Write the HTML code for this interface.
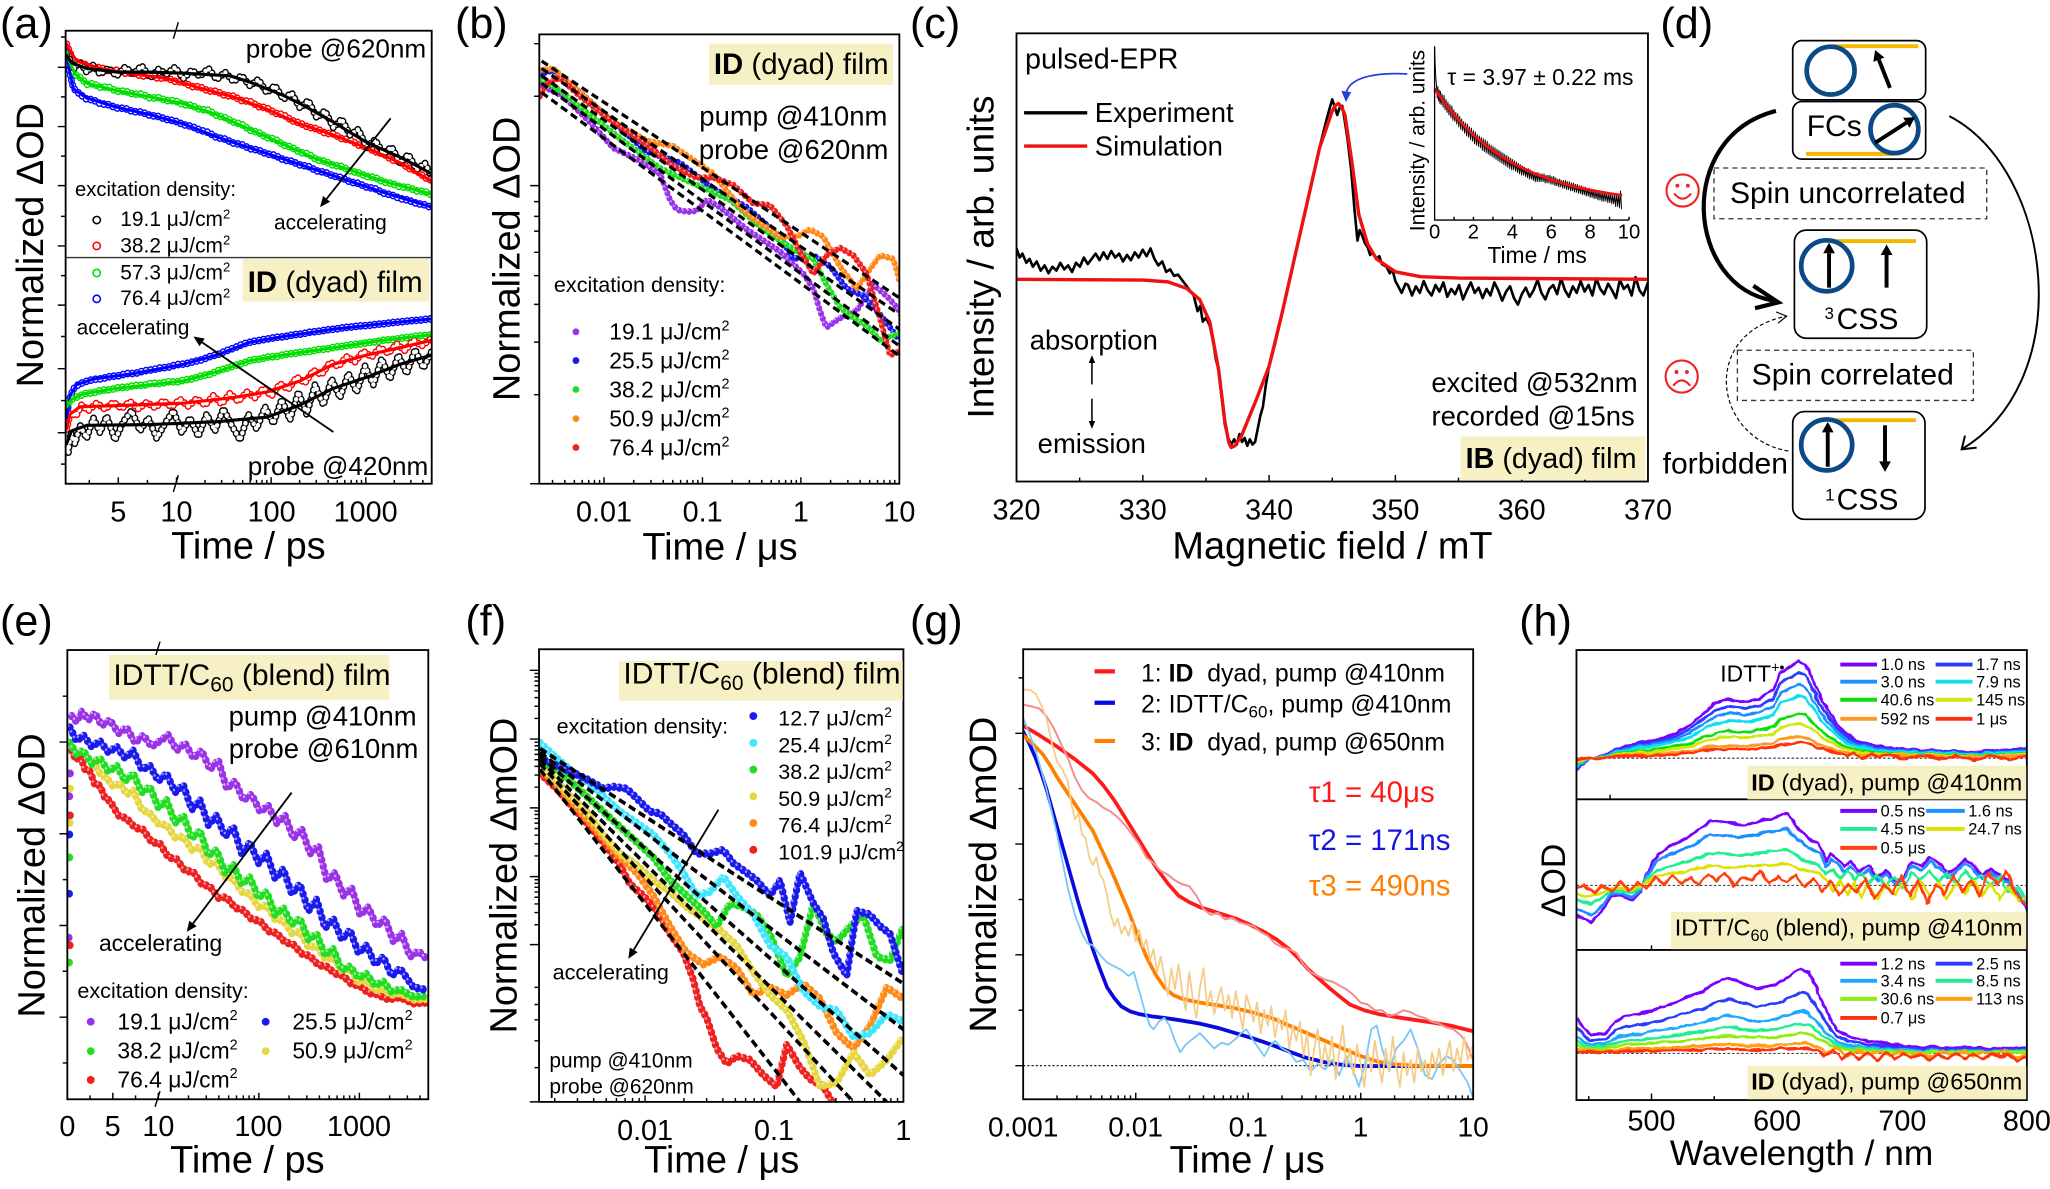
<!DOCTYPE html>
<html><head><meta charset="utf-8">
<style>
html,body{margin:0;padding:0;background:#fff;overflow:hidden;}
svg{display:block;}
text{font-family:"Liberation Sans",Arial,sans-serif;fill:#000;}
</style></head>
<body>
<svg xmlns="http://www.w3.org/2000/svg" width="2050" height="1189" viewBox="0 0 1568 909.43" preserveAspectRatio="none">
<defs>
<clipPath id="ca"><rect x="50.2" y="23.5" width="280" height="346.5"/></clipPath>
<clipPath id="cb"><rect x="412.5" y="26.3" width="275.4" height="343.7"/></clipPath>
<clipPath id="cc"><rect x="777.5" y="25.5" width="483" height="342.8"/></clipPath>
<clipPath id="ce"><rect x="51.5" y="497.2" width="276.1" height="343.6"/></clipPath>
<clipPath id="cf"><rect x="412.3" y="496.6" width="278.7" height="346.2"/></clipPath>
<clipPath id="cg"><rect x="782.6" y="496.6" width="344.2" height="344.2"/></clipPath>
<clipPath id="ch1"><rect x="1205.8" y="497.2" width="344.5" height="114.2"/></clipPath>
<clipPath id="ch2"><rect x="1205.8" y="611.4" width="344.5" height="115.2"/></clipPath>
<clipPath id="ch3"><rect x="1205.8" y="726.6" width="344.5" height="114.8"/></clipPath>
<filter id="jit" x="-3%" y="-10%" width="106%" height="120%">
<feTurbulence type="fractalNoise" baseFrequency="0.12" numOctaves="2" seed="7" result="n"/>
<feDisplacementMap in="SourceGraphic" in2="n" scale="3.5" xChannelSelector="R" yChannelSelector="G"/>
</filter>
<!-- panel a series (zoom coords) -->
<path id="aUk" d="M200,150 210,162 222,185 240,168 260,195 280,176 300,200 325,185 350,205 375,182 400,200 425,178 450,210 475,188 500,200 525,182 550,212 575,190 600,206 625,185 650,215 675,195 700,220 725,205 750,232 775,215 800,250 825,232 850,268 875,252 900,292 925,272 950,318 975,300 1000,345 1025,322 1050,365 1075,350 1100,398 1125,378 1150,415 1175,398 1200,440 1225,418 1250,458 1275,442 1295,478"/>
<path id="aUr" d="M200,120 208,138 218,158 230,168 250,172 275,184 300,182 325,192 350,190 375,198 400,197 425,206 450,203 475,212 500,210 525,220 550,222 575,234 600,235 625,246 650,247 675,258 700,260 725,272 750,274 775,288 800,292 825,306 850,310 875,326 900,333 925,344 950,348 975,360 1000,362 1025,375 1050,378 1075,392 1100,397 1125,410 1150,416 1175,432 1200,437 1225,455 1250,462 1275,480 1295,488"/>
<path id="aUg" d="M200,140 208,165 218,190 230,205 245,212 260,228 280,226 300,236 325,235 350,247 375,246 400,255 425,254 450,265 475,264 500,272 525,272 550,283 575,285 600,296 625,298 650,312 675,318 700,330 725,336 750,352 775,358 800,372 825,376 850,392 875,398 900,412 925,416 950,432 975,436 1000,447 1025,450 1050,462 1075,467 1100,477 1125,480 1150,492 1175,496 1200,505 1225,507 1250,516 1275,518 1295,527"/>
<path id="aUb" d="M200,120 204,160 210,200 220,238 240,255 260,268 280,270 300,280 325,283 350,292 375,293 400,302 425,303 450,312 475,315 500,323 525,327 550,337 575,342 600,352 625,358 650,372 675,376 700,387 725,391 750,402 775,406 800,416 825,420 850,432 875,436 900,446 925,450 950,462 975,466 1000,476 1025,480 1050,492 1075,496 1100,506 1125,510 1150,522 1175,527 1200,537 1225,541 1250,550 1275,554 1295,562"/>
<path id="aLb" d="M200,1130 205,1095 212,1068 222,1050 235,1040 255,1032 280,1026 305,1024 330,1018 355,1016 380,1010 405,1010 430,1003 455,1000 480,995 505,993 530,986 555,984 580,978 605,973 630,964 655,958 680,948 705,940 730,930 755,924 780,920 805,916 830,912 855,910 880,905 905,903 930,898 955,896 980,892 1005,890 1030,886 1055,884 1080,881 1105,880 1130,877 1155,875 1180,872 1205,870 1230,867 1255,866 1280,863 1295,862"/>
<path id="aLg" d="M200,1100 208,1088 218,1078 235,1072 255,1064 280,1062 305,1055 330,1054 355,1048 380,1047 405,1042 430,1042 455,1036 480,1037 505,1032 530,1033 555,1027 580,1024 605,1016 630,1012 655,1002 680,996 705,988 730,982 755,973 780,971 805,965 830,964 855,958 880,956 905,952 930,950 955,945 980,944 1005,938 1030,936 1055,932 1080,930 1105,926 1130,924 1155,919 1180,918 1205,914 1230,912 1255,908 1280,907 1295,905"/>
<path id="aLr" d="M200,1160 206,1135 214,1115 228,1125 245,1095 265,1110 290,1090 315,1106 340,1088 365,1104 390,1086 415,1105 440,1088 465,1102 490,1084 515,1100 540,1080 565,1098 590,1078 615,1095 640,1070 665,1092 690,1064 715,1085 740,1060 765,1075 790,1050 815,1070 840,1038 865,1052 890,1020 915,1035 940,1002 965,1012 990,980 1015,990 1040,965 1065,978 1090,950 1115,965 1140,940 1165,955 1190,930 1215,948 1240,920 1265,935 1295,915"/>
<path id="aLk" d="M200,1200 205,1225 212,1170 225,1200 240,1150 260,1185 280,1130 300,1170 320,1125 345,1190 370,1140 395,1110 420,1165 445,1130 470,1185 495,1145 520,1110 545,1170 570,1130 595,1180 620,1120 645,1165 670,1105 695,1150 720,1190 745,1120 770,1160 795,1100 820,1145 845,1080 870,1135 895,1060 920,1120 945,1040 970,1095 995,1025 1020,1075 1045,1010 1070,1060 1095,990 1120,1040 1145,970 1170,1025 1195,960 1220,1010 1245,945 1270,995 1295,950"/>
<!-- panel b -->
<path id="bP" d="M180,230 215,245 250,260 290,295 330,330 365,365 400,400 435,415 470,430 505,450 540,470 555,505 570,540 585,560 600,570 625,572 650,570 665,555 680,540 700,550 720,560 760,590 800,620 850,650 900,680 935,710 970,740 985,760 1000,780 1010,810 1020,840 1030,865 1040,885 1060,872 1080,860 1105,850 1130,840 1155,805 1180,770 1200,785 1220,800 1240,820 1258,840"/>
<path id="bB" d="M180,200 200,195 220,190 260,220 300,250 350,290 400,330 450,370 500,410 550,425 600,440 650,475 700,510 750,535 800,560 850,600 900,640 920,670 940,700 970,695 1000,690 1025,705 1050,720 1075,750 1100,780 1125,790 1150,800 1175,825 1200,850 1230,885 1258,920"/>
<path id="bG" d="M180,215 215,232 250,250 275,270 300,290 350,325 400,360 470,408 540,455 595,478 650,500 700,520 750,540 800,580 850,620 900,650 950,680 975,690 1000,700 1020,735 1040,770 1060,800 1080,830 1100,845 1120,860 1140,870 1160,880 1180,900 1200,920 1230,910 1258,900"/>
<path id="bO" d="M180,190 200,188 220,185 260,218 300,250 350,290 400,330 450,355 500,380 540,388 580,395 600,408 620,420 660,445 700,470 740,515 780,560 800,575 820,590 860,615 900,640 925,640 950,640 970,630 990,620 1010,630 1030,640 1055,680 1080,720 1105,750 1130,780 1145,760 1160,740 1180,715 1200,690 1220,695 1240,700 1250,730 1258,760"/>
<path id="bR" d="M180,260 190,242 200,225 220,218 240,210 270,235 300,260 350,295 400,330 450,360 500,390 540,420 580,450 615,465 650,480 675,480 700,480 730,490 760,500 790,525 820,550 845,552 870,555 895,582 920,610 940,645 960,680 980,710 1000,740 1020,715 1040,690 1060,680 1080,670 1100,680 1120,690 1140,715 1160,740 1180,800 1200,860 1215,910 1230,960 1245,955 1258,950"/>
<!-- panel e -->
<path id="eR" d="M215,420 228,445 240,432 255,470 270,475 285,510 300,512 315,545 330,552 355,590 380,598 405,622 430,628 455,660 480,664 505,700 530,705 555,735 580,738 605,770 630,776 655,806 680,804 705,832 730,838 755,862 780,866 805,893 830,898 855,922 880,928 905,952 930,958 955,982 980,986 1005,1004 1030,1010 1055,1032 1080,1036 1105,1055 1130,1058 1165,1072 1200,1066 1240,1082 1285,1080"/>
<path id="eY" d="M280,450 300,480 320,492 340,515 360,505 380,535 400,525 425,575 450,585 475,612 500,615 525,648 550,645 575,680 600,672 625,718 650,712 675,752 700,755 725,790 750,795 775,830 800,825 825,862 850,865 875,898 900,895 925,935 950,932 975,965 1000,962 1025,995 1050,992 1075,1025 1100,1022 1125,1048 1150,1045 1175,1060 1200,1055 1240,1072 1285,1070"/>
<path id="eG" d="M210,400 230,430 250,420 275,455 300,440 325,475 350,460 375,500 400,480 425,530 450,515 475,570 500,550 525,610 550,590 575,650 600,630 625,695 650,680 675,740 700,720 725,770 750,752 775,805 800,790 825,850 850,832 875,875 900,860 925,915 950,900 975,955 1000,940 1025,995 1050,985 1075,1015 1100,1005 1125,1035 1150,1025 1175,1052 1200,1045 1240,1065 1285,1062"/>
<path id="eB" d="M210,360 230,395 250,380 275,410 300,395 325,425 350,410 375,440 400,420 425,470 450,460 475,500 500,480 525,530 550,510 575,575 600,550 625,615 650,590 675,645 700,620 725,690 750,660 775,715 800,690 825,755 850,730 875,795 900,770 925,840 950,810 975,885 1000,860 1025,915 1050,890 1075,950 1100,930 1125,980 1150,960 1175,1010 1200,990 1240,1040 1285,1048"/>
<path id="eP" d="M215,330 230,345 245,318 265,340 285,322 305,355 330,340 355,375 380,360 405,400 430,380 455,410 480,395 505,380 530,420 555,400 580,440 605,420 630,470 655,445 680,520 705,500 730,550 755,535 780,580 805,565 830,610 855,590 880,650 905,625 930,690 955,670 980,760 1005,740 1030,800 1055,780 1080,850 1105,830 1130,880 1155,860 1180,920 1205,900 1230,960 1255,945 1285,970"/>
<!-- panel f -->
<path id="fB" d="M210,440 260,460 300,475 350,495 400,520 430,515 470,520 500,545 540,580 570,585 600,610 640,640 680,690 720,690 760,680 790,715 830,740 860,760 900,800 930,760 960,870 990,740 1030,820 1060,860 1090,950 1130,1010 1160,840 1200,850 1230,880 1260,900 1300,1010"/>
<path id="fC" d="M210,400 260,440 300,470 350,500 400,540 450,580 500,610 550,640 600,690 640,740 680,800 720,790 760,750 800,800 850,850 900,930 950,960 1000,1050 1050,1090 1100,1100 1150,1170 1200,1160 1250,1110 1300,1130"/>
<path id="fG" d="M210,450 260,470 300,500 350,540 400,580 450,620 500,660 550,700 600,760 650,800 700,840 740,880 780,820 820,830 860,850 900,900 950,1010 990,960 1030,820 1070,900 1100,920 1140,880 1180,850 1220,960 1260,970 1300,880"/>
<path id="fY" d="M210,460 260,500 300,540 350,580 400,640 450,690 500,720 550,760 600,790 650,830 700,860 750,890 800,930 850,1000 900,1060 950,1100 1000,1180 1050,1300 1100,1290 1150,1210 1200,1270 1250,1230 1300,1170"/>
<path id="fO" d="M210,470 260,510 300,550 350,600 400,650 450,700 500,740 550,800 600,880 650,950 700,980 750,960 800,990 850,1060 900,1040 950,1060 1000,1030 1050,1070 1100,1160 1150,1200 1200,1140 1250,1040 1300,1070"/>
<path id="fR" d="M210,480 260,520 300,560 350,610 400,660 450,720 480,770 520,800 560,840 600,900 640,950 670,1020 690,1090 710,1120 740,1200 770,1240 800,1220 840,1230 880,1270 920,1300 950,1190 990,1250 1020,1280 1060,1300 1100,1360"/>
</defs>

<!-- ===================== DATA ===================== -->
<!-- (a) -->
<g clip-path="url(#ca)">
<g transform="matrix(0.25497 0 0 0.2829 0 0)" fill="none" stroke-linecap="round" stroke-linejoin="round">
<g stroke-dasharray="0 14">
<use href="#aUb" stroke="#0000ff" stroke-width="21"/><use href="#aUb" stroke="#fff" stroke-width="13"/>
<use href="#aUg" stroke="#00dd00" stroke-width="21"/><use href="#aUg" stroke="#fff" stroke-width="13"/>
<use href="#aUr" stroke="#ff0000" stroke-width="21"/><use href="#aUr" stroke="#fff" stroke-width="13"/>
<use href="#aUk" stroke="#000" stroke-width="21"/><use href="#aUk" stroke="#fff" stroke-width="13"/>
<use href="#aLb" stroke="#0000ff" stroke-width="21"/><use href="#aLb" stroke="#fff" stroke-width="13"/>
<use href="#aLg" stroke="#00dd00" stroke-width="21"/><use href="#aLg" stroke="#fff" stroke-width="13"/>
<use href="#aLr" stroke="#ff0000" stroke-width="21"/><use href="#aLr" stroke="#fff" stroke-width="13"/>
<use href="#aLk" stroke="#000" stroke-width="21"/><use href="#aLk" stroke="#fff" stroke-width="13"/>
</g>
<g stroke-width="8.5">
<path stroke="#0000ff" d="M200,120 206,180 220,240 260,265 350,290 450,310 550,335 650,370 750,400 850,430 950,460 1050,490 1150,520 1295,560"/>
<path stroke="#00dd00" d="M200,140 208,165 225,200 260,225 350,245 450,262 550,280 650,310 750,350 850,390 950,430 1050,460 1150,490 1295,525"/>
<path stroke="#ff0000" d="M200,120 210,140 230,165 300,185 400,200 500,212 600,238 700,262 800,295 900,335 1000,365 1100,400 1200,440 1295,490"/>
<path stroke="#000" d="M200,150 215,170 260,185 350,195 450,195 550,198 690,205 750,222 800,240 850,258 900,280 950,305 1000,330 1050,358 1100,385 1150,405 1200,425 1250,448 1295,470"/>
<path stroke="#0000ff" d="M200,1130 210,1070 230,1040 280,1025 400,1010 550,985 650,960 750,925 850,910 1000,890 1150,875 1295,862"/>
<path stroke="#00dd00" d="M200,1100 215,1080 250,1065 350,1050 450,1040 550,1030 650,1005 750,975 850,960 1000,940 1150,920 1295,905"/>
<path stroke="#ff0000" d="M200,1160 210,1120 240,1100 400,1095 550,1090 700,1075 800,1060 900,1030 1000,985 1100,960 1200,940 1295,920"/>
<path stroke="#000" d="M200,1200 215,1165 260,1150 450,1148 650,1140 800,1128 900,1095 1000,1050 1100,1020 1200,985 1295,960"/>
</g>
</g>
</g>

<!-- (b) -->
<g clip-path="url(#cb)">
<g transform="matrix(0.25497 0 0 0.2829 367.1 0)" fill="none" stroke-linecap="round" stroke-linejoin="round">
<g stroke-dasharray="0 15">
<use href="#bP" stroke="#9a32e8" stroke-width="18"/><use href="#bP" transform="translate(-4,-4)" stroke="#fff" stroke-opacity="0.55" stroke-width="6"/>
<use href="#bB" stroke="#1a1aee" stroke-width="18"/><use href="#bB" transform="translate(-4,-4)" stroke="#fff" stroke-opacity="0.55" stroke-width="6"/>
<use href="#bG" stroke="#22dd22" stroke-width="18"/><use href="#bG" transform="translate(-4,-4)" stroke="#fff" stroke-opacity="0.55" stroke-width="6"/>
<use href="#bO" stroke="#ff8a1a" stroke-width="18"/><use href="#bO" transform="translate(-4,-4)" stroke="#fff" stroke-opacity="0.55" stroke-width="6"/>
<use href="#bR" stroke="#ee2020" stroke-width="18"/><use href="#bR" transform="translate(-4,-4)" stroke="#fff" stroke-opacity="0.55" stroke-width="6"/>
</g>
<g stroke="#000" stroke-width="9" stroke-dasharray="22 13" stroke-linecap="butt">
<path d="M185,165 1258,805"/><path d="M185,185 1258,850"/><path d="M185,205 1258,890"/><path d="M185,225 1258,935"/><path d="M185,250 1258,962"/>
</g>
</g>
</g>

<!-- (c) -->
<g clip-path="url(#cc)" fill="none" stroke-linejoin="round">
<path stroke="#000" stroke-width="2" d="M777.5,190 780,197 782,194 785,201 787.5,198 790,204 793,200 796,207 799,203 802,209 805,204 808,207 811,201 814,206 817,203 820,208 823,201 826,204 829,197 832,202 835,198 838,194 841,199 844,193 847,198 850,192 853,197 856,194 859,200 862,195 865,199 868,193 871,197 874,191 877,196 880,190 883,198 886,203 889,200 892,208 895,206 898,211 901,210 904,214 907,218 910,222 913,226 916,238 918,234 920,246 922.5,243 925.3,249 928,262 930,275 932.1,283 934.5,305 936.9,325 939,334 941.7,340 944,336 946,340 948,332 950,338 952,335 954,341 956,336 958,340 960,338 962,328 964,318 966,311 968,296 970.7,280 973,272 975.5,262 978,251 980.4,240 983,229 985,220 987.5,210 990,198 992.5,187 995,176 997.5,166 999.7,156 1002,145 1004.5,134 1007,124 1009.3,113 1012,102 1014.5,92 1017,83 1019,76 1021,82 1022.8,88 1024.8,82 1026.7,81 1028.5,92 1030.5,105 1033.5,130 1036,160 1038.3,184 1040,176 1042.2,181 1044,186 1046.1,189 1048,195 1050,193 1052.8,198 1055,196 1057,202 1060.5,204 1063,209 1065,206 1067.3,215 1070,220 1072.1,224 1075,217 1077,218 1080,226 1083,219 1086,224 1089,215 1092,222 1095,226 1098,218 1101,223 1104,216 1107,227 1110,221 1113,225 1116,218 1119,229 1122,222 1125,216 1128,224 1131,220 1134,228 1137,221 1140,226 1143,216 1146,222 1149,230 1152,223 1155,219 1158,228 1161,233 1164,225 1167,220 1170,227 1173,222 1176,214 1179,224 1182,229 1185,221 1188,218 1191,225 1194,213 1197,222 1200,227 1203,219 1206,224 1209,215 1212,223 1215,218 1218,226 1221,213 1224,221 1227,225 1230,217 1233,222 1236,228 1239,214 1242,221 1245,218 1248,226 1251,212 1254,222 1257,226 1260.5,216"/>
<path stroke="#ee1111" stroke-width="2.6" d="M777.5,213.6 874.1,214.2 893.4,215.6 907.9,220.7 917.6,229.1 925.3,246.1 932.1,282.9 936.9,322.5 939.8,338.1 941.7,342.3 944.6,340.9 949.4,333.8 961,305.5 970.7,280.1 980.4,240.5 990,198 999.7,155.6 1009.3,113.2 1019,84.9 1021.4,80.6 1023.8,79.2 1026.2,82 1028.7,87.7 1034.5,127.3 1039.3,164.1 1046.1,186.7 1052.8,198 1067.3,207.9 1086.6,211.6 1115.6,212.7 1260.5,213.6"/>
<path stroke="#000" stroke-width="0.7" d="M1097.3,37 1097.8,50 1098.3,60 1098.8,66 1099.3,75 1099.8,66 1100.3,77 1100.8,69 1101.3,79 1101.8,70 1102.3,80 1103,72 1103.8,82 1104.5,73 1105.3,84 1106,76 1106.8,86 1107.5,78 1108.3,88 1109,80 1109.8,90 1110.5,81 1111.3,92 1112,84 1112.8,93 1113.5,86 1114.3,95 1115,87 1115.8,97 1116.5,89 1117.3,99 1118,91 1118.8,100 1119.5,93 1120.3,102 1121,94 1121.8,104 1122.5,95 1123.3,105 1124,97 1124.8,107 1125.5,98 1126.3,108 1127,100 1127.8,110 1128.5,101 1129.3,111 1130,103 1130.8,112 1131.5,104 1132.3,113 1133,105 1133.8,115 1134.5,106 1135.3,116 1136,107 1136.8,117 1137.5,108 1138.3,118 1139,110 1139.8,119 1140.5,111 1141.3,120 1142,112 1142.8,121 1143.5,113 1144.3,122 1145,114 1145.8,123 1146.5,115 1147.3,124 1148,116 1148.8,125 1149.5,117 1150.3,126 1151,118 1151.8,127 1152.5,119 1153.3,128 1154,120 1154.8,129 1155.5,121 1156.3,130 1157,122 1157.8,130 1158.5,123 1159.3,131 1160,124 1160.8,132 1161.5,125 1162.3,133 1163,126 1163.8,134 1164.5,127 1165.3,134 1166,128 1166.8,135 1167.5,129 1168.3,136 1169,129 1169.8,137 1170.5,130 1171.3,137 1172,131 1172.8,138 1173.5,132 1174.3,139 1175,132 1175.8,139 1176.5,132 1177.3,139 1178,133 1178.8,139 1179.5,133 1180.3,139 1181,133 1181.8,140 1182.5,134 1183.3,140 1184,134 1184.8,140 1185.5,134 1186.3,141 1187,135 1187.8,141 1188.5,135 1189.3,142 1190,136 1190.8,142 1191.5,137 1192.3,143 1193,137 1193.8,143 1194.5,138 1195.3,144 1196,138 1196.8,144 1197.5,138 1198.3,145 1199,139 1199.8,145 1200.5,139 1201.3,146 1202,140 1202.8,146 1203.5,140 1204.3,147 1205,141 1205.8,147 1206.5,141 1207.3,148 1208,142 1208.8,148 1209.5,142 1210.3,149 1211,143 1211.8,149 1212.5,143 1213.3,150 1214,144 1214.8,150 1215.5,144 1216.3,151 1217,145 1217.8,151 1218.5,145 1219.3,152 1220,146 1220.8,152 1221.5,146 1222.3,153 1223,146 1223.8,153 1224.5,147 1225.3,154 1226,147 1226.8,154 1227.5,147 1228.3,154 1229,148 1229.8,155 1230.5,148 1231.3,155 1232,148 1232.8,156 1233.5,149 1234.3,156 1235,149 1235.8,158 1236.5,148 1237.3,158 1238,149 1238.8,159 1239.5,146 1240.3,160"/>
<path stroke="#ee1111" stroke-width="2.2" d="M1097.3,67.9 1104.7,78.5 1112.2,87.8 1119.6,96 1127,103.3 1134.5,109.7 1141.9,115.3 1149.3,120.3 1156.8,124.7 1171.7,131.9 1186.5,137.6 1201.4,142 1216.3,145.4 1231.1,148 1240.8,149.4"/>
</g>

<!-- (e) -->
<g clip-path="url(#ce)">
<g transform="matrix(0.25497 0 0 0.2922 0 451.3)" fill="none" stroke-linecap="round" stroke-linejoin="round" stroke-dasharray="0 17">
<use href="#eR" stroke="#ee2020" stroke-width="22"/><use href="#eR" transform="translate(-5,-5)" stroke="#fff" stroke-opacity="0.55" stroke-width="7"/>
<use href="#eY" stroke="#e6d640" stroke-width="22"/><use href="#eY" transform="translate(-5,-5)" stroke="#fff" stroke-opacity="0.55" stroke-width="7"/>
<use href="#eG" stroke="#22dd22" stroke-width="22"/><use href="#eG" transform="translate(-5,-5)" stroke="#fff" stroke-opacity="0.55" stroke-width="7"/>
<use href="#eB" stroke="#1a1aee" stroke-width="22"/><use href="#eB" transform="translate(-5,-5)" stroke="#fff" stroke-opacity="0.55" stroke-width="7"/>
<use href="#eP" stroke="#9a32e8" stroke-width="22"/><use href="#eP" transform="translate(-5,-5)" stroke="#fff" stroke-opacity="0.55" stroke-width="7"/>
</g>
<circle cx="53" cy="609.1" r="3" fill="#9a32e8"/><circle cx="53.5" cy="591.6" r="3" fill="#9a32e8"/><circle cx="52.5" cy="717.2" r="3" fill="#9a32e8"/>
<circle cx="53" cy="638.3" r="3" fill="#1a1aee"/><circle cx="52.8" cy="683.6" r="3" fill="#1a1aee"/>
<circle cx="53" cy="655.8" r="3" fill="#22dd22"/><circle cx="52.8" cy="736.2" r="3" fill="#22dd22"/>
<circle cx="53.5" cy="623.7" r="3" fill="#ee2020"/><circle cx="53.3" cy="723" r="3" fill="#ee2020"/>
<circle cx="53.3" cy="629.5" r="3" fill="#e6d640"/><circle cx="53.5" cy="603.2" r="3" fill="#e6d640"/>
</g>

<!-- (f) -->
<g clip-path="url(#cf)">
<g transform="matrix(0.25497 0 0 0.2922 359.5 451.3)" fill="none" stroke-linecap="round" stroke-linejoin="round">
<g stroke-dasharray="0 17">
<use href="#fR" stroke="#ee2020" stroke-width="22"/><use href="#fR" transform="translate(-5,-5)" stroke="#fff" stroke-opacity="0.55" stroke-width="7"/>
<use href="#fO" stroke="#ff8a1a" stroke-width="22"/><use href="#fO" transform="translate(-5,-5)" stroke="#fff" stroke-opacity="0.55" stroke-width="7"/>
<use href="#fY" stroke="#e6d640" stroke-width="22"/><use href="#fY" transform="translate(-5,-5)" stroke="#fff" stroke-opacity="0.55" stroke-width="7"/>
<use href="#fG" stroke="#22dd22" stroke-width="22"/><use href="#fG" transform="translate(-5,-5)" stroke="#fff" stroke-opacity="0.55" stroke-width="7"/>
<use href="#fC" stroke="#3ee6ff" stroke-width="22"/><use href="#fC" transform="translate(-5,-5)" stroke="#fff" stroke-opacity="0.55" stroke-width="7"/>
<use href="#fB" stroke="#1a1aee" stroke-width="22"/><use href="#fB" transform="translate(-5,-5)" stroke="#fff" stroke-opacity="0.55" stroke-width="7"/>
</g>
<g stroke="#000" stroke-width="10" stroke-dasharray="22 12" stroke-linecap="butt">
<path d="M210,415 1300,1030"/><path d="M210,425 1300,1150"/><path d="M210,435 1300,1270"/><path d="M210,445 1250,1340"/><path d="M210,455 1150,1340"/><path d="M210,470 990,1340"/>
</g>
</g>
</g>

<!-- (g) -->
<g clip-path="url(#cg)">
<line x1="782.6" y1="815.1" x2="1126.8" y2="815.1" stroke="#000" stroke-width="0.8" stroke-dasharray="1.6 1.6"/>
<g transform="matrix(0.27315 0 0 0.2922 726.6 451.3)" fill="none" stroke-linejoin="round" stroke-linecap="round">
<path stroke="#ff1a1a" stroke-width="10" d="M205,355 250,380 300,410 350,443 400,480 430,512 460,550 490,595 520,640 550,686 580,730 610,768 640,800 670,817 700,830 750,845 800,860 840,876 880,895 915,915 950,940 975,963 1000,990 1030,1015 1060,1040 1090,1063 1120,1085 1160,1100 1200,1110 1250,1118 1300,1125 1350,1132 1400,1140 1465,1155"/>
<path stroke="#0a0adf" stroke-width="10" d="M205,370 222,402 240,440 255,478 270,520 285,570 300,620 315,670 330,720 345,770 360,820 380,880 400,940 420,992 440,1040 460,1068 480,1090 505,1103 530,1110 565,1116 600,1120 650,1127 700,1135 750,1146 800,1160 850,1174 900,1190 950,1208 1000,1225 1050,1236 1100,1243 1150,1246 1200,1246 1465,1246"/>
<path stroke="#ff8000" stroke-width="10" d="M205,380 232,403 260,430 280,458 300,490 325,525 350,560 375,595 400,630 425,680 450,730 475,785 500,840 525,902 550,960 575,1005 600,1040 625,1060 650,1070 700,1080 750,1087 800,1095 850,1106 900,1120 950,1140 1000,1160 1050,1180 1100,1200 1150,1220 1200,1235 1250,1242 1300,1245 1465,1246"/>
<path stroke="#f29090" stroke-width="5.5" d="M205,300 230,305 250,310 270,330 290,360 310,400 330,440 350,490 370,525 390,545 410,555 430,570 450,580 470,595 490,615 510,640 530,665 550,700 570,715 590,735 610,745 630,760 650,770 670,775 690,800 710,835 730,850 750,845 770,862 790,858 810,870 830,875 850,880 870,895 890,905 910,925 930,935 950,940 970,950 990,980 1010,1000 1030,1010 1050,1020 1070,1025 1090,1035 1110,1045 1130,1060 1150,1080 1170,1085 1190,1100 1210,1100 1230,1115 1250,1110 1270,1100 1290,1105 1310,1115 1330,1120 1350,1130 1370,1135 1390,1145 1410,1150 1430,1165 1445,1185 1465,1230"/>
<path stroke="#78c8f5" stroke-width="5" d="M205,335 220,370 240,420 255,470 270,520 285,580 300,640 315,710 330,780 350,850 370,900 385,925 400,930 420,955 440,975 460,985 480,995 500,1010 515,1000 530,1050 545,1100 560,1140 570,1150 585,1130 600,1120 615,1140 630,1180 645,1210 660,1190 680,1175 700,1160 720,1180 740,1200 760,1185 780,1190 800,1175 815,1160 830,1150 850,1180 865,1200 880,1220 895,1195 910,1180 930,1200 950,1210 970,1235 990,1230 1010,1260 1030,1240 1050,1255 1070,1230 1090,1270 1110,1220 1130,1260 1145,1300 1160,1250 1180,1150 1195,1140 1210,1200 1230,1260 1250,1200 1270,1180 1290,1150 1310,1200 1330,1270 1350,1280 1370,1240 1390,1220 1410,1230 1430,1260 1450,1290 1465,1330"/>
<path stroke="#f5cc88" stroke-width="5" d="M205,260 225,262 240,272 255,300 270,335 285,400 300,450 315,470 330,500 340,560 350,600 360,585 370,640 380,650 390,700 400,720 410,700 420,745 430,760 440,800 450,850 460,880 470,860 480,900 490,880 500,905 510,870 520,920 530,890 540,935 550,915 560,970 570,940 580,1000 590,960 600,1010 610,1060 620,990 630,1045 640,980 650,1050 660,1100 670,1000 680,1070 690,1120 700,1040 710,990 720,1090 730,1050 740,1110 750,1070 760,1040 770,1100 780,1060 790,1120 800,1050 810,1100 820,1150 830,1060 840,1090 850,1130 860,1080 870,1160 880,1100 890,1140 900,1090 910,1170 920,1120 930,1150 940,1100 950,1200 960,1140 970,1180 980,1130 990,1220 1000,1160 1010,1270 1020,1200 1030,1150 1040,1250 1050,1190 1060,1240 1070,1170 1080,1280 1090,1210 1100,1140 1110,1250 1120,1200 1130,1270 1140,1190 1150,1240 1160,1300 1170,1210 1180,1260 1190,1180 1200,1240 1210,1290 1220,1200 1230,1260 1240,1170 1250,1250 1260,1300 1270,1210 1280,1270 1290,1230 1300,1290 1310,1200 1320,1260 1330,1230 1340,1280 1350,1210 1360,1250 1370,1200 1380,1270 1390,1220 1400,1180 1410,1260 1420,1200 1430,1240 1440,1170 1450,1230 1465,1190"/>
</g>
</g>

<!-- (h) -->
<g stroke="#333" stroke-width="0.8" stroke-dasharray="2 1.5">
<line x1="1205.8" y1="579.9" x2="1550.3" y2="579.9"/>
<line x1="1205.8" y1="677.2" x2="1550.3" y2="677.2"/>
<line x1="1205.8" y1="805.7" x2="1550.3" y2="805.7"/>
</g>
<g filter="url(#jit)">
<g clip-path="url(#ch1)">
<g transform="matrix(0.26831 0 0 0.2922 1147.3 451.3)" fill="none" stroke-width="7.5" stroke-linejoin="round">
<path stroke="#7a00ff" d="M218,470 240,450 260,440 300,430 350,410 400,400 450,390 500,375 540,355 570,330 610,300 650,285 700,292 740,282 780,262 800,215 830,200 850,185 870,195 890,230 910,275 935,315 960,350 990,380 1030,400 1080,410 1150,415 1250,420 1350,425 1420,420 1502,415"/>
<path stroke="#2a3cff" d="M218,466 240,449 260,440 300,431 350,414 400,405 450,396 500,383 540,365 570,343 610,317 650,304 700,310 740,301 780,283 800,242 830,229 850,216 870,224 890,255 910,295 935,330 960,361 990,387 1030,405 1080,414 1150,418 1250,422 1350,427 1420,422 1502,418"/>
<path stroke="#1e8fff" d="M218,463 240,448 260,440 300,432 350,417 400,410 450,402 500,391 540,375 570,356 610,334 650,322 700,328 740,320 780,305 800,269 830,258 850,246 870,254 890,280 910,315 935,345 960,372 990,394 1030,410 1080,417 1150,421 1250,425 1350,429 1420,425 1502,421"/>
<path stroke="#10e0f0" d="M218,459 240,446 260,440 300,434 350,421 400,414 450,408 500,398 540,386 570,370 610,350 650,341 700,345 740,339 780,326 800,296 830,286 850,277 870,283 890,306 910,334 935,360 960,382 990,402 1030,414 1080,421 1150,424 1250,427 1350,430 1420,427 1502,424"/>
<path stroke="#10dd10" d="M218,454 240,445 260,440 300,435 350,426 400,422 450,417 500,410 540,401 570,389 610,376 650,369 700,372 740,367 780,358 800,337 830,330 850,323 870,327 890,343 910,364 935,383 960,399 990,412 1030,422 1080,426 1150,429 1250,431 1350,433 1420,431 1502,429"/>
<path stroke="#d0e810" d="M218,451 240,444 260,440 300,436 350,429 400,426 450,422 500,417 540,409 570,400 610,390 650,384 700,387 740,383 780,376 800,359 830,354 850,348 870,352 890,364 910,381 935,395 960,408 990,418 1030,426 1080,429 1150,431 1250,433 1350,435 1420,433 1502,431"/>
<path stroke="#ff9a20" d="M218,447 240,442 260,440 300,438 350,433 400,431 450,429 500,426 540,421 570,416 610,409 650,406 700,407 740,405 780,401 800,390 830,387 850,384 870,386 890,394 910,404 935,412 960,420 990,427 1030,431 1080,433 1150,434 1250,436 1350,437 1420,436 1502,434"/>
<path stroke="#ff3010" d="M218,445 240,442 260,440 300,438 350,435 400,434 450,432 500,430 540,426 570,422 610,418 650,415 700,416 740,415 780,411 800,404 830,402 850,399 870,401 890,406 910,414 935,420 960,426 990,436 1010,425 1030,440 1060,428 1080,438 1110,430 1150,442 1200,432 1250,444 1300,434 1350,446 1400,433 1450,445 1502,436"/>
</g>
</g>
<g clip-path="url(#ch2)">
<g transform="matrix(0.26831 0 0 0.2922 1147.3 451.3)" fill="none" stroke-width="7.5" stroke-linejoin="round">
<path stroke="#7a00ff" d="M218,850 240,860 260,870 290,840 320,800 350,800 380,810 400,790 420,740 450,690 500,665 550,640 600,605 650,610 700,615 750,600 790,595 820,585 850,625 880,650 910,665 930,710 945,690 960,700 980,725 1000,710 1025,735 1050,725 1075,750 1100,735 1125,760 1150,750 1175,715 1200,720 1225,700 1250,715 1275,740 1300,730 1325,705 1350,720 1375,745 1400,730 1425,750 1450,760 1480,800 1502,840"/>
<path stroke="#1e8fff" d="M218,835 240,843 260,851 290,827 320,795 350,795 380,803 400,787 420,747 450,707 500,687 550,667 600,639 650,643 700,647 750,635 790,631 820,623 850,655 880,675 910,687 930,723 945,705 960,715 980,740 1000,723 1025,748 1050,735 1075,760 1100,743 1125,770 1150,755 1175,725 1200,731 1225,710 1250,727 1275,750 1300,739 1325,715 1350,731 1375,755 1400,739 1425,760 1450,763 1480,795 1502,827"/>
<path stroke="#20ee90" d="M218,812 240,817 260,822 290,807 320,787 350,787 380,792 400,782 420,757 450,732 500,719 550,707 600,689 650,692 700,694 750,687 790,684 820,679 850,699 880,712 910,719 930,742 950,730 970,755 990,735 1010,760 1030,740 1050,770 1075,745 1100,775 1125,750 1150,780 1175,742 1200,757 1225,735 1250,765 1275,740 1300,770 1325,735 1350,757 1375,745 1400,772 1425,750 1450,790 1480,780 1502,810"/>
<path stroke="#e0e000" d="M218,796 240,799 260,802 290,793 320,781 350,781 380,784 400,778 420,763 450,748 500,741 550,733 600,723 650,724 700,726 750,721 790,720 820,717 850,729 880,736 910,741 930,754 950,790 970,760 990,800 1010,765 1030,805 1050,770 1075,810 1100,770 1125,800 1150,766 1175,812 1200,760 1225,800 1250,765 1275,805 1300,770 1325,795 1350,760 1375,800 1400,770 1425,810 1450,775 1480,815 1502,800"/>
<path stroke="#ff4010" d="M218,781 243,770 268,795 293,772 318,790 343,762 368,785 393,768 418,780 443,752 468,770 493,748 518,768 543,752 568,772 593,744 618,760 643,740 668,775 693,752 718,760 743,735 768,770 793,750 818,765 843,745 868,778 893,755 918,790 943,760 968,800 993,770 1018,790 1043,755 1068,810 1093,770 1118,795 1143,745 1168,800 1193,760 1218,820 1243,770 1268,795 1293,745 1318,790 1343,760 1368,800 1393,740 1418,770 1443,735 1468,790 1502,830"/>
</g>
</g>
<g clip-path="url(#ch3)">
<g transform="matrix(0.26831 0 0 0.2922 1147.3 451.3)" fill="none" stroke-width="7.5" stroke-linejoin="round">
<path stroke="#7a00ff" d="M218,1120 240,1150 260,1165 300,1160 330,1130 360,1115 400,1110 450,1095 500,1080 550,1060 580,1050 620,1025 650,1015 690,1030 730,1045 780,1035 810,1020 840,1000 860,990 880,1000 900,1040 920,1080 940,1120 960,1150 990,1170 1050,1180 1150,1195 1300,1198 1502,1200"/>
<path stroke="#2a3cff" d="M218,1146 240,1168 260,1178 300,1175 330,1153 360,1142 400,1139 450,1128 500,1117 550,1103 580,1096 620,1078 650,1070 690,1081 730,1092 780,1085 810,1074 840,1060 860,1052 880,1060 900,1088 920,1117 940,1146 960,1168 990,1182 1050,1189 1150,1200 1300,1202 1502,1204"/>
<path stroke="#20a8ff" d="M218,1167 240,1182 260,1189 300,1187 330,1172 360,1164 400,1162 450,1154 500,1147 550,1137 580,1132 620,1119 650,1114 690,1122 730,1129 780,1124 810,1117 840,1107 860,1102 880,1107 900,1127 920,1147 940,1167 960,1182 990,1192 1050,1197 1150,1204 1300,1206 1502,1207"/>
<path stroke="#20ee90" d="M218,1180 240,1191 260,1196 300,1194 330,1184 360,1179 400,1177 450,1172 500,1166 550,1159 580,1156 620,1147 650,1144 690,1149 730,1154 780,1151 810,1145 840,1138 860,1135 880,1138 900,1152 920,1166 940,1180 960,1191 990,1198 1050,1201 1150,1207 1300,1208 1502,1208"/>
<path stroke="#90ee10" d="M218,1191 240,1198 260,1202 300,1200 330,1193 360,1190 400,1188 450,1185 500,1181 550,1176 580,1174 620,1168 650,1166 690,1169 730,1173 780,1170 810,1167 840,1162 860,1160 880,1162 900,1172 920,1181 940,1191 960,1198 990,1203 1050,1205 1150,1209 1300,1209 1502,1210"/>
<path stroke="#ffa010" d="M218,1202 240,1205 260,1207 300,1207 330,1203 360,1201 400,1201 450,1199 500,1197 550,1195 580,1193 620,1190 650,1189 690,1191 730,1193 780,1192 810,1190 840,1187 860,1186 880,1187 900,1192 930,1212 960,1198 990,1220 1020,1205 1050,1218 1080,1204 1110,1222 1140,1206 1170,1220 1200,1208 1230,1224 1260,1205 1290,1218 1320,1206 1350,1222 1380,1206 1410,1218 1440,1205 1470,1225 1502,1215"/>
<path stroke="#ff3010" d="M218,1207 240,1209 260,1210 300,1210 330,1208 360,1207 400,1207 450,1206 500,1205 550,1204 580,1203 620,1202 650,1201 690,1202 730,1203 780,1202 810,1201 840,1200 860,1200 880,1200 900,1203 925,1220 950,1205 975,1228 1000,1210 1025,1225 1050,1212 1075,1230 1100,1210 1125,1228 1150,1212 1175,1226 1200,1214 1225,1232 1250,1215 1275,1228 1300,1212 1325,1226 1350,1214 1375,1230 1400,1212 1425,1224 1450,1215 1475,1232 1502,1222"/>
</g>
</g>
</g>

<!-- ===================== AXES / FRAMES ===================== -->
<g fill="none" stroke="#000" stroke-width="1.4">
<rect x="50.2" y="23.5" width="280" height="346.5"/>
<rect x="412.5" y="26.3" width="275.4" height="343.7"/>
<rect x="777.5" y="25.5" width="483" height="342.8"/>
<rect x="51.5" y="497.2" width="276.1" height="343.6"/>
<rect x="412.3" y="496.6" width="278.7" height="346.2"/>
<rect x="782.6" y="496.6" width="344.2" height="344.2"/>
<rect x="1205.8" y="497.2" width="344.5" height="344.2"/>
<line x1="1205.8" y1="611.4" x2="1550.3" y2="611.4"/>
<line x1="1205.8" y1="726.6" x2="1550.3" y2="726.6"/>
</g>
<line x1="50.2" y1="197" x2="330.2" y2="197" stroke="#333" stroke-width="1.1"/>
<g stroke="#000" stroke-width="1.1" fill="none">
<path d="M132.6,29.7L136.4,17M132.6,376.3L136.4,363.5M118.6,503L122.4,490.7M118.6,846.5L122.4,834.5"/>
<!-- (a) ticks -->
<path d="M44.2,51.5H50.2M44.2,96.8H50.2M44.2,142H50.2M44.2,188.1H50.2M44.2,233.4H50.2M44.2,282H50.2M44.2,331H50.2M46.7,28.3H50.2M46.7,74.1H50.2M46.7,119.4H50.2M46.7,165.5H50.2M46.7,210.8H50.2M46.7,257.4H50.2M46.7,306.4H50.2M46.7,355H50.2"/>
<path d="M90.5,370v-5M135,370v-5M207.4,370v-5M279.8,370v-5M68.3,370v-3M112.8,370v-3M156.8,370v-3M169.5,370v-3M178.6,370v-3M185.6,370v-3M191.3,370v-3M196.2,370v-3M200.4,370v-3M204.1,370v-3M229.2,370v-3M241.9,370v-3M251,370v-3M258,370v-3M263.7,370v-3M268.6,370v-3M272.8,370v-3M276.5,370v-3M301.6,370v-3M314.3,370v-3M323.4,370v-3"/>
<!-- (b) ticks -->
<path d="M462,370v-5M537.3,370v-5M612.6,370v-5M422.6,370v-3M432,370v-3M439.3,370v-3M445.3,370v-3M450.3,370v-3M454.7,370v-3M458.6,370v-3M484.7,370v-3M497.9,370v-3M507.3,370v-3M514.6,370v-3M520.6,370v-3M525.6,370v-3M530,370v-3M533.8,370v-3M560,370v-3M573.2,370v-3M582.6,370v-3M589.9,370v-3M595.9,370v-3M600.9,370v-3M605.3,370v-3M609.1,370v-3M635.3,370v-3M648.5,370v-3M657.9,370v-3M665.2,370v-3M671.2,370v-3M676.2,370v-3M680.6,370v-3M684.4,370v-3"/>
<path d="M405.5,142H412.5M405.5,370H412.5M408.5,33.4H412.5M408.5,73.6H412.5M408.5,154.2H412.5M408.5,165.5H412.5M408.5,176.8H412.5M408.5,193H412.5M408.5,210.8H412.5M408.5,232.8H412.5M408.5,261.7H412.5M408.5,301.9H412.5"/>
<!-- (c) ticks -->
<path d="M874.1,368.3v-5M970.7,368.3v-5M1067.3,368.3v-5M1163.9,368.3v-5M825.8,368.3v-3M922.4,368.3v-3M1019,368.3v-3M1115.6,368.3v-3M1212.2,368.3v-3"/>
<path d="M1097.3,35.4V168.3H1246" stroke-width="1"/>
<path d="M1112.2,168.3v-2.5M1127,168.3v-2.5M1141.9,168.3v-2.5M1156.8,168.3v-2.5M1171.7,168.3v-2.5M1186.5,168.3v-2.5M1201.4,168.3v-2.5M1216.3,168.3v-2.5M1231.1,168.3v-2.5M1246,168.3v-2.5"/>
<!-- (e) ticks -->
<path d="M86.3,840.8v-5M121.1,840.8v-5M198,840.8v-5M274.9,840.8v-5M68.9,840.8v-3M103.7,840.8v-3M144.2,840.8v-3M157.8,840.8v-3M167.4,840.8v-3M174.9,840.8v-3M180.9,840.8v-3M186.1,840.8v-3M190.5,840.8v-3M194.5,840.8v-3M221.1,840.8v-3M234.7,840.8v-3M244.3,840.8v-3M251.8,840.8v-3M257.8,840.8v-3M263,840.8v-3M267.4,840.8v-3M271.4,840.8v-3M298,840.8v-3M311.6,840.8v-3M321.2,840.8v-3"/>
<path d="M45.5,567.6H51.5M45.5,637.7H51.5M45.5,707.9H51.5M45.5,778H51.5M48,532.5H51.5M48,602.7H51.5M48,672.8H51.5M48,742.9H51.5M48,813H51.5"/>
<!-- (f) ticks -->
<path d="M493.4,842.8v-5M592.2,842.8v-5M424.3,842.8v-3M441.7,842.8v-3M454.1,842.8v-3M463.7,842.8v-3M471.5,842.8v-3M478.1,842.8v-3M483.8,842.8v-3M488.9,842.8v-3M523.1,842.8v-3M540.5,842.8v-3M552.9,842.8v-3M562.5,842.8v-3M570.3,842.8v-3M576.9,842.8v-3M582.6,842.8v-3M587.7,842.8v-3M621.9,842.8v-3M639.3,842.8v-3M651.7,842.8v-3M661.3,842.8v-3M669.1,842.8v-3M675.7,842.8v-3M681.4,842.8v-3M686.5,842.8v-3"/>
<path d="M405.3,512.7H412.3M405.3,565.3H412.3M405.3,617.9H412.3M405.3,670.5H412.3M405.3,722.5H412.3M405.3,842.8H412.3M408.8,515.1H412.3M408.8,517.8H412.3M408.8,520.9H412.3M408.8,524.4H412.3M408.8,528.5H412.3M408.8,533.6H412.3M408.8,540.2H412.3M408.8,549.5H412.3M408.8,567.7H412.3M408.8,570.4H412.3M408.8,573.5H412.3M408.8,577H412.3M408.8,581.1H412.3M408.8,586.2H412.3M408.8,592.8H412.3M408.8,602.1H412.3M408.8,620.3H412.3M408.8,623H412.3M408.8,626.1H412.3M408.8,629.6H412.3M408.8,633.7H412.3M408.8,638.8H412.3M408.8,645.4H412.3M408.8,654.7H412.3M408.8,672.9H412.3M408.8,675.6H412.3M408.8,678.7H412.3M408.8,682.2H412.3M408.8,686.3H412.3M408.8,691.4H412.3M408.8,698H412.3M408.8,707.3H412.3M408.8,755.2H412.3M408.8,768.3H412.3M408.8,780H412.3M408.8,796.1H412.3M408.8,816.6H412.3"/>
<!-- (g) ticks -->
<path d="M868.7,840.8v-5M954.7,840.8v-5M1040.8,840.8v-5M808.5,840.8v-3M823.7,840.8v-3M834.4,840.8v-3M842.7,840.8v-3M849.6,840.8v-3M855.3,840.8v-3M860.3,840.8v-3M864.7,840.8v-3M894.6,840.8v-3M909.8,840.8v-3M920.5,840.8v-3M928.8,840.8v-3M935.7,840.8v-3M941.4,840.8v-3M946.4,840.8v-3M950.8,840.8v-3M980.6,840.8v-3M995.8,840.8v-3M1006.5,840.8v-3M1014.8,840.8v-3M1021.7,840.8v-3M1027.4,840.8v-3M1032.4,840.8v-3M1036.8,840.8v-3M1066.7,840.8v-3M1081.9,840.8v-3M1092.6,840.8v-3M1100.9,840.8v-3M1107.8,840.8v-3M1113.5,840.8v-3M1118.5,840.8v-3M1122.9,840.8v-3"/>
<path d="M776.6,560.9H782.6M776.6,645.6H782.6M776.6,730.3H782.6M776.6,815.1H782.6M779.1,518.5H782.6M779.1,603.2H782.6M779.1,688H782.6M779.1,772.7H782.6"/>
<!-- (h) ticks -->
<path d="M1263.2,841.4v-5M1359.3,841.4v-5M1455.4,841.4v-5M1215.2,841.4v-3M1311.2,841.4v-3M1407.3,841.4v-3M1503.3,841.4v-3M1263.2,726.6v-3.5M1359.3,726.6v-3.5M1455.4,726.6v-3.5M1231.5,611.4v-3.5M1359.3,611.4v-3.5M1487,611.4v-3.5"/>
</g>

<!-- arrows -->
<g stroke="#000" stroke-width="1.4">
<line x1="298.8" y1="90.5" x2="249.8" y2="152.1"/>
<line x1="255" y1="330.4" x2="154.6" y2="261.9"/>
<line x1="223.1" y1="606.2" x2="147.6" y2="706.4"/>
<line x1="549.5" y1="619.3" x2="484.7" y2="726.5"/>
<line x1="835.2" y1="294" x2="835.2" y2="277.6" stroke-width="1.2"/>
<line x1="835.2" y1="305" x2="835.2" y2="322" stroke-width="1.2"/>
</g>
<g fill="#000">
<polygon points="244.8,158.4 247.1,149.9 252.5,154.3"/>
<polygon points="148,257.4 156.6,259 152.6,264.8"/>
<polygon points="142.8,712.8 144.8,704.3 150.4,708.5"/>
<polygon points="480.6,733.3 481.7,724.7 487.7,728.3"/>
<polygon points="835.2,271.6 832.7,277.6 837.7,277.6"/>
<polygon points="835.2,328 832.7,322 837.7,322"/>
</g>
<path d="M1076.4,56.6 C1050,55 1033,60 1030,70" fill="none" stroke="#1f3fe0" stroke-width="1.3"/>
<polygon points="1029.5,78 1026,69.5 1033.5,70.5" fill="#1f3fe0"/>

<!-- panel labels -->
<g font-size="33">
<text x="0" y="29">(a)</text>
<text x="348" y="29">(b)</text>
<text x="696" y="29">(c)</text>
<text x="1270" y="29">(d)</text>
<text x="0" y="486">(e)</text>
<text x="356" y="486">(f)</text>
<text x="696" y="486">(g)</text>
<text x="1162" y="486">(h)</text>
</g>

<!-- ===== panel (a) text ===== -->
<text x="326" y="44" font-size="20" text-anchor="end">probe @620nm</text>
<text x="57.4" y="150" font-size="15.5">excitation density:</text>
<g fill="none" stroke-width="1.2">
<circle cx="74" cy="168.3" r="2.8" stroke="#000"/>
<circle cx="74" cy="188.1" r="2.8" stroke="#ff0000"/>
<circle cx="74" cy="208.8" r="2.8" stroke="#00dd00"/>
<circle cx="74" cy="228.6" r="2.8" stroke="#0000ff"/>
</g>
<g font-size="16">
<text x="92" y="173">19.1 μJ/cm<tspan font-size="10" dy="-6">2</tspan></text>
<text x="92" y="193">38.2 μJ/cm<tspan font-size="10" dy="-6">2</tspan></text>
<text x="92" y="213.6">57.3 μJ/cm<tspan font-size="10" dy="-6">2</tspan></text>
<text x="92" y="233.4">76.4 μJ/cm<tspan font-size="10" dy="-6">2</tspan></text>
<text x="209.6" y="175.4">accelerating</text>
<text x="58.6" y="256">accelerating</text>
</g>
<rect x="185.6" y="198" width="142.6" height="32.6" fill="#f6f0c4"/>
<text x="189.5" y="223.5" font-size="22.5"><tspan font-weight="bold">ID</tspan> (dyad) film</text>
<text x="327.6" y="363.5" font-size="20" text-anchor="end">probe @420nm</text>
<g font-size="22" text-anchor="middle">
<text x="90.5" y="399">5</text><text x="135" y="399">10</text><text x="207.8" y="399">100</text><text x="279.7" y="399">1000</text>
</g>
<text x="190" y="427" font-size="29" text-anchor="middle">Time / ps</text>
<text transform="translate(33,187.5) rotate(-90)" font-size="29" text-anchor="middle">Normalized ΔOD</text>

<!-- ===== panel (b) text ===== -->
<rect x="542.3" y="33.4" width="140.7" height="31.6" fill="#f6f0c4"/>
<text x="546" y="56.6" font-size="22.5"><tspan font-weight="bold">ID</tspan> (dyad) film</text>
<text x="678.7" y="96" font-size="21" text-anchor="end">pump @410nm</text>
<text x="679.5" y="121.6" font-size="21" text-anchor="end">probe @620nm</text>
<text x="423.7" y="223.5" font-size="16.5">excitation density:</text>
<circle cx="440.5" cy="253.8" r="2.6" fill="#9a32e8"/>
<circle cx="440.5" cy="275.8" r="2.6" fill="#1a1aee"/>
<circle cx="440.5" cy="297.9" r="2.6" fill="#22dd22"/>
<circle cx="440.5" cy="320.2" r="2.6" fill="#ff8a1a"/>
<circle cx="440.5" cy="342.3" r="2.6" fill="#ee2020"/>
<g font-size="17.5">
<text x="466" y="259.7">19.1 μJ/cm<tspan font-size="11" dy="-7">2</tspan></text>
<text x="466" y="282">25.5 μJ/cm<tspan font-size="11" dy="-7">2</tspan></text>
<text x="466" y="304.1">38.2 μJ/cm<tspan font-size="11" dy="-7">2</tspan></text>
<text x="466" y="326.2">50.9 μJ/cm<tspan font-size="11" dy="-7">2</tspan></text>
<text x="466" y="348.5">76.4 μJ/cm<tspan font-size="11" dy="-7">2</tspan></text>
</g>
<g font-size="22" text-anchor="middle">
<text x="462" y="399">0.01</text><text x="537.4" y="399">0.1</text><text x="612.6" y="399">1</text><text x="687.9" y="399">10</text>
</g>
<text x="550.7" y="428" font-size="29" text-anchor="middle">Time / μs</text>
<text transform="translate(397.5,198) rotate(-90)" font-size="29" text-anchor="middle">Normalized ΔOD</text>

<!-- ===== panel (c) text ===== -->
<text x="784" y="52.3" font-size="22">pulsed-EPR</text>
<line x1="783.3" y1="86.3" x2="831.6" y2="86.3" stroke="#000" stroke-width="2.6"/>
<line x1="783.3" y1="111.7" x2="831.6" y2="111.7" stroke="#ee1111" stroke-width="2.6"/>
<text x="837.4" y="93.4" font-size="21">Experiment</text>
<text x="837.4" y="118.8" font-size="21">Simulation</text>
<text x="787.6" y="267.3" font-size="21">absorption</text>
<text x="793.7" y="346.5" font-size="21">emission</text>
<text x="1252.6" y="299.9" font-size="21" text-anchor="end">excited @532nm</text>
<text x="1250.4" y="325.3" font-size="21" text-anchor="end">recorded @15ns</text>
<rect x="1117.2" y="333.8" width="141.5" height="33.1" fill="#f6f0c4"/>
<text x="1121" y="358" font-size="22"><tspan font-weight="bold">IB</tspan> (dyad) film</text>
<text x="1107" y="65" font-size="17.5">τ = 3.97 ± 0.22 ms</text>
<g font-size="15.5" text-anchor="middle">
<text x="1097.3" y="182.5">0</text><text x="1127" y="182.5">2</text><text x="1156.8" y="182.5">4</text><text x="1186.5" y="182.5">6</text><text x="1216.3" y="182.5">8</text><text x="1246" y="182.5">10</text>
</g>
<text x="1175.7" y="201" font-size="17.5" text-anchor="middle">Time / ms</text>
<text transform="translate(1089.5,107.5) rotate(-90)" font-size="16" text-anchor="middle">Intensity / arb. units</text>
<g font-size="22" text-anchor="middle">
<text x="777.5" y="397.5">320</text><text x="874.1" y="397.5">330</text><text x="970.7" y="397.5">340</text><text x="1067.3" y="397.5">350</text><text x="1163.9" y="397.5">360</text><text x="1260.5" y="397.5">370</text>
</g>
<text x="1019.2" y="427" font-size="29" text-anchor="middle">Magnetic field / mT</text>
<text transform="translate(760,196.6) rotate(-90)" font-size="28.5" text-anchor="middle">Intensity / arb. units</text>

<!-- ===== panel (d) ===== -->
<g fill="none" stroke="#000" stroke-width="1.3">
<rect x="1371.2" y="31.1" width="101.7" height="45.3" rx="7"/>
<rect x="1371.2" y="77.7" width="101.7" height="44" rx="7"/>
<rect x="1372.5" y="176" width="101.2" height="82.7" rx="9"/>
<rect x="1371.2" y="314.8" width="101.2" height="82.4" rx="9"/>
</g>
<g stroke="#f5b800" stroke-width="3">
<line x1="1401" y1="35.3" x2="1467.3" y2="35.3"/>
<line x1="1381.4" y1="117.7" x2="1448.2" y2="117.7"/>
<line x1="1401" y1="184.4" x2="1465.5" y2="184.4"/>
<line x1="1401" y1="321.4" x2="1465.5" y2="321.4"/>
</g>
<g fill="none" stroke="#0b4a86" stroke-width="3.6">
<circle cx="1400.2" cy="54" r="18.3"/>
<circle cx="1449" cy="98.8" r="18.3"/>
<circle cx="1397.2" cy="203.3" r="19.5"/>
<circle cx="1397.2" cy="340.3" r="19.5"/>
</g>
<g stroke="#000" stroke-width="3">
<line x1="1445.6" y1="67.2" x2="1437.1" y2="45.7"/>
<line x1="1434.2" y1="109.3" x2="1458.1" y2="93.9"/>
<line x1="1399" y1="220" x2="1399" y2="193.7"/>
<line x1="1443" y1="220" x2="1443" y2="195"/>
<line x1="1398" y1="357" x2="1398" y2="330.7"/>
<line x1="1441.8" y1="325.3" x2="1441.8" y2="352.9"/>
</g>
<g fill="#000">
<polygon points="1434.2,38.2 1441.3,44 1432.9,47.3"/>
<polygon points="1464.8,89.6 1460.5,97.7 1455.7,90.1"/>
<polygon points="1399,185.7 1394.5,193.7 1403.5,193.7"/>
<polygon points="1443,187 1438.5,195 1447.5,195"/>
<polygon points="1398,322.7 1393.5,330.7 1402.5,330.7"/>
<polygon points="1441.8,360.9 1437.3,352.9 1446.3,352.9"/>
</g>
<g fill="none" stroke="#ee2222" stroke-width="1.6">
<circle cx="1287" cy="145.7" r="12.3"/>
<path d="M1280.5,148 Q1287,156 1293.5,148"/>
<circle cx="1286.3" cy="288" r="12.3"/>
<path d="M1279.8,295 Q1286.3,287 1292.8,295"/>
</g>
<g fill="#ee2222">
<circle cx="1283" cy="142" r="1.5"/><circle cx="1291" cy="142" r="1.5"/>
<circle cx="1282.3" cy="284.5" r="1.5"/><circle cx="1290.3" cy="284.5" r="1.5"/>
</g>
<g fill="none" stroke="#333" stroke-width="1" stroke-dasharray="4 3">
<rect x="1311" y="128.5" width="208.6" height="38.8"/>
<rect x="1328.9" y="267.9" width="180.5" height="38.4"/>
</g>
<g fill="none" stroke="#000">
<path d="M1358.4,84.8 C1280,105 1290,220 1357,230" stroke-width="3.2"/>
<polyline points="1341.1,218.6 1360.2,231.3 1342.4,235.7" stroke-width="3.2"/>
<path d="M1491,88.8 C1570,130 1590,290 1500.4,343.7" stroke-width="1.5"/>
<polyline points="1503,333.2 1500.4,343.7 1511.9,342.4" stroke-width="1.5"/>
<path d="M1367.9,345 C1310,335 1300,255 1366.6,241.8" stroke-width="0.9" stroke-dasharray="3 2"/>
<polyline points="1358.5,238.6 1366.6,241.8 1360,247.2" stroke-width="0.9"/>
</g>
<g font-size="23">
<text x="1381.9" y="104">FCs</text>
<text x="1323.2" y="155.4">Spin uncorrelated</text>
<text x="1339.8" y="294.2">Spin correlated</text>
<text x="1271.7" y="362.2">forbidden</text>
<text x="1404.8" y="251.5">CSS</text>
<text x="1404.8" y="389.8">CSS</text>
</g>
<text x="1395.5" y="244" font-size="13">3</text>
<text x="1396" y="383" font-size="13">1</text>

<!-- ===== panel (e) text ===== -->
<rect x="83.4" y="501" width="214.4" height="34.5" fill="#f6f0c4"/>
<text x="86.7" y="523.8" font-size="23">IDTT/C<tspan font-size="16" dy="5">60</tspan><tspan dy="-5"> (blend) film</tspan></text>
<text x="318.7" y="555" font-size="21" text-anchor="end">pump @410nm</text>
<text x="320" y="579.9" font-size="21" text-anchor="end">probe @610nm</text>
<text x="75.7" y="727.4" font-size="17.5">accelerating</text>
<text x="59.2" y="763.4" font-size="16.5">excitation density:</text>
<circle cx="69.4" cy="781.5" r="3" fill="#9a32e8"/>
<circle cx="203.2" cy="781.5" r="3" fill="#1a1aee"/>
<circle cx="69.4" cy="804" r="3" fill="#22dd22"/>
<circle cx="203.2" cy="804" r="3" fill="#e6d640"/>
<circle cx="69.4" cy="826" r="3" fill="#ee2020"/>
<g font-size="17.5">
<text x="89.8" y="787.3">19.1 μJ/cm<tspan font-size="11" dy="-7">2</tspan></text>
<text x="223.6" y="787.3">25.5 μJ/cm<tspan font-size="11" dy="-7">2</tspan></text>
<text x="89.8" y="809.8">38.2 μJ/cm<tspan font-size="11" dy="-7">2</tspan></text>
<text x="223.6" y="809.8">50.9 μJ/cm<tspan font-size="11" dy="-7">2</tspan></text>
<text x="89.8" y="831.7">76.4 μJ/cm<tspan font-size="11" dy="-7">2</tspan></text>
</g>
<g font-size="22" text-anchor="middle">
<text x="51.5" y="869">0</text><text x="86.2" y="869">5</text><text x="121.1" y="869">10</text><text x="197.6" y="869">100</text><text x="274.6" y="869">1000</text>
</g>
<text x="189.2" y="897" font-size="29" text-anchor="middle">Time / ps</text>
<text transform="translate(34,669.6) rotate(-90)" font-size="29" text-anchor="middle">Normalized ΔOD</text>

<!-- ===== panel (f) text ===== -->
<rect x="473.5" y="505.4" width="217" height="30.6" fill="#f6f0c4"/>
<text x="476.8" y="522.9" font-size="23">IDTT/C<tspan font-size="16" dy="5">60</tspan><tspan dy="-5"> (blend) film</tspan></text>
<text x="425.8" y="560.9" font-size="16.5">excitation density:</text>
<circle cx="576.2" cy="547.7" r="3" fill="#1a1aee"/>
<circle cx="576.2" cy="568.2" r="3" fill="#3ee6ff"/>
<circle cx="576.2" cy="588.6" r="3" fill="#22dd22"/>
<circle cx="576.2" cy="609.1" r="3" fill="#e6d640"/>
<circle cx="576.2" cy="629.5" r="3" fill="#ff8a1a"/>
<circle cx="576.2" cy="650" r="3" fill="#ee2020"/>
<g font-size="16.5">
<text x="595.3" y="555">12.7 μJ/cm<tspan font-size="10.5" dy="-6.5">2</tspan></text>
<text x="595.3" y="575.5">25.4 μJ/cm<tspan font-size="10.5" dy="-6.5">2</tspan></text>
<text x="595.3" y="595.9">38.2 μJ/cm<tspan font-size="10.5" dy="-6.5">2</tspan></text>
<text x="595.3" y="616.4">50.9 μJ/cm<tspan font-size="10.5" dy="-6.5">2</tspan></text>
<text x="595.3" y="636.8">76.4 μJ/cm<tspan font-size="10.5" dy="-6.5">2</tspan></text>
<text x="595.3" y="657.3">101.9 μJ/cm<tspan font-size="10.5" dy="-6.5">2</tspan></text>
<text x="422.7" y="749.3">accelerating</text>
</g>
<text x="420.2" y="816.6" font-size="16">pump @410nm</text>
<text x="420.2" y="836.4" font-size="16">probe @620nm</text>
<g font-size="22" text-anchor="middle">
<text x="493.4" y="872">0.01</text><text x="592" y="872">0.1</text><text x="691" y="872">1</text>
</g>
<text x="552" y="897" font-size="29" text-anchor="middle">Time / μs</text>
<text transform="translate(395,669.7) rotate(-90)" font-size="29" text-anchor="middle">Normalized ΔmOD</text>

<!-- ===== panel (g) text ===== -->
<g stroke-width="3.2">
<line x1="837.2" y1="513.5" x2="852.8" y2="513.5" stroke="#ff1a1a"/>
<line x1="837.2" y1="537.5" x2="852.8" y2="537.5" stroke="#0a0adf"/>
<line x1="837.2" y1="566.7" x2="852.8" y2="566.7" stroke="#ff8000"/>
</g>
<g font-size="19">
<text x="872.7" y="521.4">1: <tspan font-weight="bold">ID</tspan>&#160; dyad, pump @410nm</text>
<text x="872.7" y="544.8">2: IDTT/C<tspan font-size="13" dy="4">60</tspan><tspan dy="-4">, pump @410nm</tspan></text>
<text x="872.7" y="574">3: <tspan font-weight="bold">ID</tspan>&#160; dyad, pump @650nm</text>
</g>
<g font-size="22.5">
<text x="1001.1" y="613.5" style="fill:#ff1a1a">τ1 = 40μs</text>
<text x="1001.1" y="650" style="fill:#1515e0">τ2 = 171ns</text>
<text x="1001.1" y="685" style="fill:#ff8000">τ3 = 490ns</text>
</g>
<g font-size="21.5" text-anchor="middle">
<text x="782.6" y="869.2">0.001</text><text x="868.6" y="869.2">0.01</text><text x="954.7" y="869.2">0.1</text><text x="1040.7" y="869.2">1</text><text x="1126.8" y="869.2">10</text>
</g>
<text x="953.9" y="897" font-size="29" text-anchor="middle">Time / μs</text>
<text transform="translate(762,669) rotate(-90)" font-size="29" text-anchor="middle">Normalized ΔmOD</text>

<!-- ===== panel (h) text ===== -->
<rect x="1336.5" y="585.7" width="213.3" height="25.7" fill="#f6f0c4"/>
<text x="1339.5" y="604.7" font-size="18"><tspan font-weight="bold">ID</tspan> (dyad), pump @410nm</text>
<rect x="1278" y="697.6" width="271.8" height="28.4" fill="#f6f0c4"/>
<text x="1281" y="715.7" font-size="18">IDTT/C<tspan font-size="12.5" dy="4">60</tspan><tspan dy="-4"> (blend), pump @410nm</tspan></text>
<rect x="1336.5" y="815.1" width="213.3" height="25.7" fill="#f6f0c4"/>
<text x="1339.5" y="833.5" font-size="18"><tspan font-weight="bold">ID</tspan> (dyad), pump @650nm</text>
<text x="1315.8" y="521.4" font-size="17.5">IDTT<tspan font-size="11" dy="-7">+•</tspan></text>
<g stroke-width="3">
<line x1="1407.6" y1="508.3" x2="1435.7" y2="508.3" stroke="#7a00ff"/>
<line x1="1480.5" y1="508.3" x2="1508.7" y2="508.3" stroke="#2a3cff"/>
<line x1="1407.6" y1="521.4" x2="1435.7" y2="521.4" stroke="#1e8fff"/>
<line x1="1480.5" y1="521.4" x2="1508.7" y2="521.4" stroke="#10e0f0"/>
<line x1="1407.6" y1="535.2" x2="1435.7" y2="535.2" stroke="#10dd10"/>
<line x1="1480.5" y1="535.2" x2="1508.7" y2="535.2" stroke="#d0e810"/>
<line x1="1407.6" y1="549.8" x2="1435.7" y2="549.8" stroke="#ff9a20"/>
<line x1="1480.5" y1="549.8" x2="1508.7" y2="549.8" stroke="#ff3010"/>
<line x1="1407.6" y1="620.2" x2="1435.7" y2="620.2" stroke="#7a00ff"/>
<line x1="1473.3" y1="620.2" x2="1502.8" y2="620.2" stroke="#1e8fff"/>
<line x1="1407.6" y1="634" x2="1435.7" y2="634" stroke="#20ee90"/>
<line x1="1473.3" y1="634" x2="1502.8" y2="634" stroke="#e0e000"/>
<line x1="1407.6" y1="648.5" x2="1435.7" y2="648.5" stroke="#ff4010"/>
<line x1="1407.6" y1="737.1" x2="1435.7" y2="737.1" stroke="#7a00ff"/>
<line x1="1480.5" y1="737.1" x2="1508.7" y2="737.1" stroke="#2a3cff"/>
<line x1="1407.6" y1="750.2" x2="1435.7" y2="750.2" stroke="#20a8ff"/>
<line x1="1480.5" y1="750.2" x2="1508.7" y2="750.2" stroke="#20ee90"/>
<line x1="1407.6" y1="764" x2="1435.7" y2="764" stroke="#90ee10"/>
<line x1="1480.5" y1="764" x2="1508.7" y2="764" stroke="#ffa010"/>
<line x1="1407.6" y1="778.6" x2="1435.7" y2="778.6" stroke="#ff3010"/>
</g>
<g font-size="12.5">
<text x="1438.5" y="512.6">1.0 ns</text><text x="1511.5" y="512.6">1.7 ns</text>
<text x="1438.5" y="525.7">3.0 ns</text><text x="1511.5" y="525.7">7.9 ns</text>
<text x="1438.5" y="539.5">40.6 ns</text><text x="1511.5" y="539.5">145 ns</text>
<text x="1438.5" y="554.1">592 ns</text><text x="1511.5" y="554.1">1 μs</text>
<text x="1438.5" y="624.5">0.5 ns</text><text x="1505.5" y="624.5">1.6 ns</text>
<text x="1438.5" y="638.3">4.5 ns</text><text x="1505.5" y="638.3">24.7 ns</text>
<text x="1438.5" y="652.8">0.5 μs</text>
<text x="1438.5" y="741.4">1.2 ns</text><text x="1511.5" y="741.4">2.5 ns</text>
<text x="1438.5" y="754.5">3.4 ns</text><text x="1511.5" y="754.5">8.5 ns</text>
<text x="1438.5" y="768.3">30.6 ns</text><text x="1511.5" y="768.3">113 ns</text>
<text x="1438.5" y="782.9">0.7 μs</text>
</g>
<g font-size="22" text-anchor="middle">
<text x="1263.2" y="864.8">500</text><text x="1359.3" y="864.8">600</text><text x="1455.1" y="864.8">700</text><text x="1550.3" y="864.8">800</text>
</g>
<text x="1378" y="891" font-size="27" text-anchor="middle">Wavelength / nm</text>
<text transform="translate(1197,673.4) rotate(-90)" font-size="26" text-anchor="middle">ΔOD</text>
</svg>
</body></html>
